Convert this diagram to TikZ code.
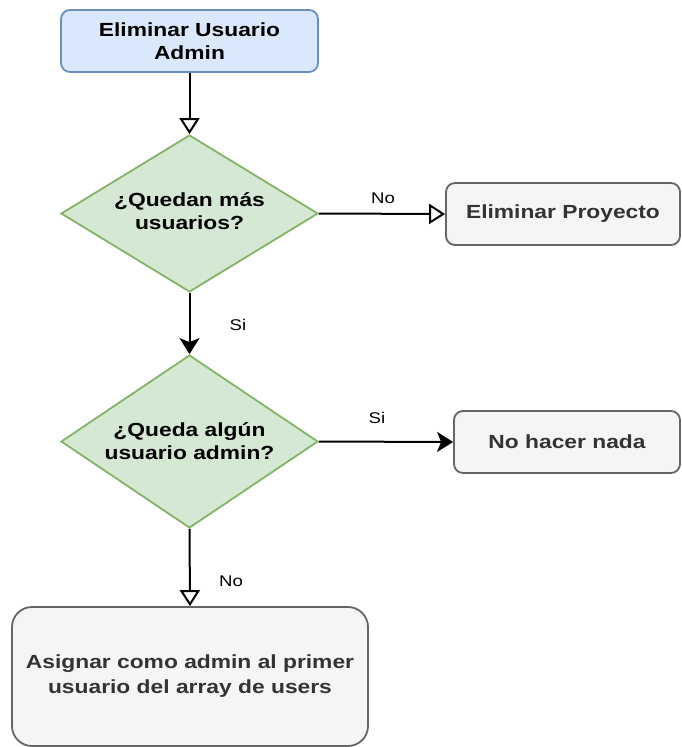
\documentclass[tikz,border=0pt]{standalone}
\usepackage{fontspec}
\setmainfont[FakeStretch=1.2]{Liberation Sans}
\usetikzlibrary{shapes.geometric,arrows.meta}
\definecolor{blueFill}{HTML}{DAE8FC}
\definecolor{blueLine}{HTML}{6C8EBF}
\definecolor{greenFill}{HTML}{D5E8D4}
\definecolor{greenLine}{HTML}{82B366}
\definecolor{greyFill}{HTML}{F5F5F5}
\definecolor{greyLine}{HTML}{666666}
\definecolor{greyText}{HTML}{333333}
\tikzset{
  startbox/.style={draw=blueLine, fill=blueFill, line width=1.8pt, rounded corners=9pt,
    minimum width=257pt, minimum height=62pt, inner sep=0pt},
  decision/.style={diamond, draw=greenLine, fill=greenFill, line width=1.8pt,
    minimum width=257pt, minimum height=#1, inner sep=0pt},
  actionbox/.style={draw=greyLine, fill=greyFill, line width=1.8pt, rounded corners=#1,
    inner sep=0pt, text=greyText},
  boxtext/.style={font=\fontsize{19pt}{23pt}\selectfont\bfseries, align=center},
  edgelabel/.style={font=\fontsize{15.5pt}{18pt}\selectfont, text=black},
  openarrow/.style={line width=2pt, -{Triangle[open, length=16pt, width=20pt, line width=2pt]}},
  fillarrow/.style={line width=2pt, -{Stealth[length=16pt, width=20pt, inset=4pt]}},
}
\begin{document}
\begin{tikzpicture}[x=1pt, y=-1pt]
  \useasboundingbox (0,0) rectangle (681,747);

  % start
  \node[startbox, boxtext] (start) at (189.5,41) {Eliminar Usuario\\Admin};

  % first decision
  \node[decision=157pt] (q1) at (189.5,213.5) {};
  \node[boxtext] (q1t) at (189.5,211) {¿Quedan más\\usuarios?};

  % delete project
  \node[actionbox=9pt, minimum width=234pt, minimum height=62pt, boxtext, text=greyText]
    (proj) at (563,214) {Eliminar Proyecto};

  % second decision
  \node[decision=173pt] (q2) at (189.5,441.5) {};
  \node[boxtext] (q2t) at (189.5,441) {¿Queda algún\\usuario admin?};

  % do nothing
  \node[actionbox=9pt, minimum width=226pt, minimum height=62pt, boxtext, text=greyText]
    (none) at (567,442) {No hacer nada};

  % assign admin
  \node[actionbox=20pt, minimum width=356pt, minimum height=139pt, boxtext, text=greyText,
    font=\fontsize{19pt}{25pt}\selectfont\bfseries]
    (assign) at (190,676.5) {Asignar como admin al primer\\usuario del array de users};

  % connectors
  \draw[openarrow] (start.south) -- (q1.north);
  \draw[openarrow] (q1.east) -- (proj.west);
  \draw[fillarrow] (q1.south) -- (q2.north);
  \draw[fillarrow] (q2.east) -- (none.west);
  \draw[openarrow] (q2.south) -- (assign.north);

  % edge labels
  \node[edgelabel] (lno1) at (383,198) {No};
  \node[edgelabel] (lsi1) at (238,325) {Si};
  \node[edgelabel] (lsi2) at (377,418) {Si};
  \node[edgelabel] (lno2) at (231,581) {No};
\end{tikzpicture}
\end{document}
